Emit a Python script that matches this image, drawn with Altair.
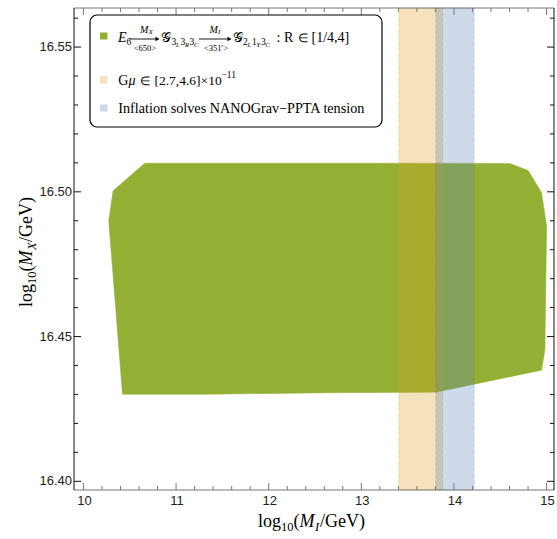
import altair as alt
import pandas as pd

# ---------------- data ----------------
poly_x = [10.662, 10.320, 10.273, 10.421, 11.364, 12.660, 13.805, 14.946,
          14.982, 15.000, 14.946, 14.801, 14.604, 13.200, 10.662]
poly_y = [16.5099, 16.5004, 16.4899, 16.4301, 16.4301, 16.4306, 16.4308, 16.4384,
          16.4456, 16.4881, 16.4997, 16.5074, 16.5098, 16.5099, 16.5099]

gmu_band = [13.405, 13.877]
infl_band = [13.805, 14.218]

x_major = [10, 11, 12, 13, 14, 15]
x_minor = [10.2, 10.4, 10.6, 10.8, 11.2, 11.4, 11.6, 11.8, 12.2, 12.4, 12.6, 12.8,
           13.2, 13.4, 13.6, 13.8, 14.2, 14.4, 14.6, 14.8]
y_major = [16.40, 16.45, 16.50, 16.55]
y_minor = [16.41, 16.42, 16.43, 16.44, 16.46, 16.47, 16.48, 16.49,
           16.51, 16.52, 16.53, 16.54, 16.56]

legend_line2 = ["G", "μ", "∈", "[2.7,4.6]×10", "−11"]
legend_line3 = "Inflation solves NANOGrav−PPTA tension"

# ---------------- style ----------------
GREEN = "#93B034"
ORANGE = "#E09C24"
BLUE = "#5E81B5"
SERIF = "Liberation Serif"
SANS = "Liberation Sans"
W, H = 480, 482
OX, OY = 74, 8
XS = alt.Scale(domain=[9.898, 15.08], nice=False, zero=False)
YS = alt.Scale(domain=[16.397, 16.5635], nice=False, zero=False)

dummy = pd.DataFrame({"a": [0]})
poly_df = pd.DataFrame({"x": poly_x, "y": poly_y, "i": list(range(len(poly_x)))})

layers = []

poly = alt.Chart(poly_df).mark_line(fill=GREEN, stroke=GREEN, strokeWidth=0.5).encode(
    x=alt.X("x:Q", scale=XS, axis=None),
    y=alt.Y("y:Q", scale=YS, axis=None),
    order="i:Q",
)
layers.append(poly)


def band(lo_hi, col):
    df = pd.DataFrame({"x1": [lo_hi[0]], "x2": [lo_hi[1]]})
    return alt.Chart(df).mark_rect(fill=col, fillOpacity=0.3, stroke=col, strokeOpacity=0.3,
                                   strokeDash=[4, 2], strokeWidth=1).encode(
        x=alt.X("x1:Q", scale=XS, axis=None), x2="x2:Q",
        y=alt.value(0), y2=alt.value(H))


layers.append(band(gmu_band, ORANGE))
layers.append(band(infl_band, BLUE))

# frame
for (x1, x2, y1, y2, c) in [(0, W, 0, 0, "#777"), (0, W, H, H, "#777"),
                            (0, 0, 0, H, "#111"), (W, W, 0, H, "#111")]:
    layers.append(alt.Chart(dummy).mark_rule(color=c, strokeWidth=1).encode(
        x=alt.value(x1), x2=alt.value(x2), y=alt.value(y1), y2=alt.value(y2)))


def xticks(vals, ln):
    df = pd.DataFrame({"v": vals})
    b = alt.Chart(df).mark_rule(color="#777", strokeWidth=1)
    return [b.encode(x=alt.X("v:Q", scale=XS, axis=None), y=alt.value(H), y2=alt.value(H - ln)),
            b.encode(x=alt.X("v:Q", scale=XS, axis=None), y=alt.value(0), y2=alt.value(ln))]


def yticks(vals, ln):
    df = pd.DataFrame({"v": vals})
    b = alt.Chart(df).mark_rule(color="#111", strokeWidth=1)
    return [b.encode(y=alt.Y("v:Q", scale=YS, axis=None), x=alt.value(0), x2=alt.value(ln)),
            b.encode(y=alt.Y("v:Q", scale=YS, axis=None), x=alt.value(W), x2=alt.value(W - ln))]


layers += xticks(x_major, 7) + xticks(x_minor, 4) + yticks(y_major, 7) + yticks(y_minor, 4)

# tick labels
layers.append(alt.Chart(pd.DataFrame({"v": x_major})).mark_text(
    font=SANS, fontSize=13, color="#222", baseline="top", align="center", dx=1).encode(
    x=alt.X("v:Q", scale=XS, axis=None), y=alt.value(H + 4.5),
    text=alt.Text("v:Q", format="d")))
layers.append(alt.Chart(pd.DataFrame({"v": y_major})).mark_text(
    font=SANS, fontSize=13, color="#222", baseline="middle", align="right").encode(
    y=alt.Y("v:Q", scale=YS, axis=None), x=alt.value(-2),
    text=alt.Text("v:Q", format=".2f")))


def T(s, x, y, size, style="normal", font=SERIF, align="left", angle=0):
    return alt.Chart(dummy).mark_text(text=s, font=font, fontSize=size, fontStyle=style,
                                      align=align, baseline="alphabetic", angle=angle,
                                      color="black").encode(
        x=alt.value(x - OX), y=alt.value(y - OY))


def R(x1, x2, y1, y2, **kw):
    return alt.Chart(dummy).mark_rect(**kw).encode(
        x=alt.value(x1 - OX), x2=alt.value(x2 - OX), y=alt.value(y1 - OY), y2=alt.value(y2 - OY))


# legend box
layers.append(R(90, 382, 15, 127, fill="white", stroke="black", strokeWidth=1.2, cornerRadius=7))
layers.append(R(100, 107.5, 32.5, 39.5, fill=GREEN))
layers.append(R(100, 107.5, 76, 83.5, fill=ORANGE, fillOpacity=0.3))
layers.append(R(100, 107.5, 104.5, 111.5, fill=BLUE, fillOpacity=0.3))

# legend line 1: E6 --(MX,<650>)--> G_{3L3R3C} --(MI,<351'>)--> G_{2L1Y3C} : R in [1/4,4]
b1 = 41.7
sb = b1 + 3.5
layers.append(T("E", 118, b1, 14, "italic"))
layers.append(T("6", 126.5, sb, 9.5))
for (a0, a1) in [(129, 160), (199, 232)]:
    layers.append(alt.Chart(dummy).mark_rule(color="black", strokeWidth=0.9).encode(
        x=alt.value(a0 - OX), x2=alt.value(a1 - 2 - OX), y=alt.value(39 - OY)))
    layers.append(alt.Chart(dummy).mark_point(shape="triangle-right", filled=True, size=22,
                                              color="black", opacity=1).encode(
        x=alt.value(a1 - 2.5 - OX), y=alt.value(39 - OY)))
layers.append(T("M", 140, 32.5, 10, "italic"))
layers.append(T("X", 148.5, 34, 7, "italic"))
layers.append(T("<650>", 145, 50.5, 8.5, align="center"))
layers.append(T("M", 209.5, 32.5, 10, "italic"))
layers.append(T("I", 218, 34, 7, "italic"))
layers.append(T("<351'>", 216, 50.5, 8.5, align="center"))
layers.append(T("𝒢", 161, b1, 14))
layers.append(T("𝒢", 233, b1, 14))
for (s, x, small) in [("3", 171.5, False), ("L", 176, True), ("3", 180.5, False), ("R", 185, True),
                      ("3", 189.5, False), ("C", 194, True),
                      ("2", 243, False), ("L", 247.5, True), ("1", 252, False), ("Y", 256.5, True),
                      ("3", 261, False), ("C", 265.5, True)]:
    if small:
        layers.append(T(s, x, sb + 1.5, 6.5, "italic"))
    else:
        layers.append(T(s, x, sb, 9.5))
layers.append(T(": R", 276.5, b1, 14))
layers.append(T("∈", 298, b1, 11.5))
layers.append(T("[1/4,4]", 311.5, b1, 14))

# legend line 2 and 3
layers.append(T(legend_line2[0], 118.3, 84.5, 14))
layers.append(T(legend_line2[1], 128.5, 84.5, 14, "italic"))
layers.append(T(legend_line2[2], 140, 84.5, 11.5))
layers.append(T(legend_line2[3], 154.5, 84.5, 13.5))
layers.append(T(legend_line2[4], 221.5, 78, 9.5))
layers.append(T(legend_line3, 118.3, 112.7, 14.2))

# bottom axis title: log10(MI/GeV)
bb = 527
layers.append(T("log", 258, bb, 18))
layers.append(T("10", 281, bb + 4, 12.5))
layers.append(T("(", 293.5, bb, 18))
layers.append(T("M", 299.5, bb, 18, "italic"))
layers.append(T("I", 315, bb + 4, 12.5, "italic"))
layers.append(T("/GeV)", 320, bb, 18))

# left axis title: log10(MX/GeV), rotated
lx = 32
layers.append(T("log", lx, 307, 18, angle=270))
layers.append(T("10", lx + 4, 284, 12.5, angle=270))
layers.append(T("(", lx, 271.5, 18, angle=270))
layers.append(T("M", lx, 265.5, 18, "italic", angle=270))
layers.append(T("X", lx + 4, 250, 12.5, "italic", angle=270))
layers.append(T("/GeV)", lx, 242, 18, angle=270))

chart = alt.layer(*layers).properties(
    width=W, height=H,
    padding={"left": OX, "top": OY, "right": 3, "bottom": 49},
    autosize=alt.AutoSizeParams(type="none"),
    background="white",
).configure_view(stroke=None)

chart.save("out.html", embed_options={"renderer": "svg", "actions": False})
